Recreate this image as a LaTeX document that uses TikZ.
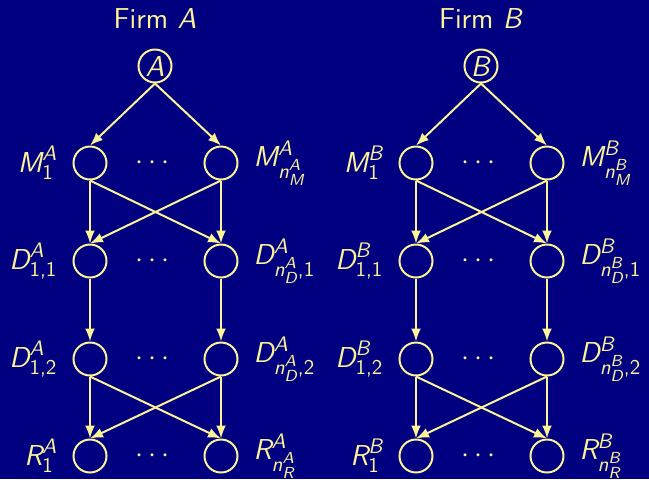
\documentclass[tikz,border=0pt]{standalone}
\usepackage{amsmath}
\usepackage{tikz}
\usepackage{xcolor}
\usetikzlibrary{arrows.meta, shapes}
\renewcommand{\familydefault}{\sfdefault}
\DeclareMathSizes{14.4}{14.4}{10.5}{8}
\definecolor{slidebg}{RGB}{0,0,128}
\definecolor{slidefg}{RGB}{252,242,150}
\newcommand{\mv}[1]{\text{\itshape #1}}
\newcommand{\nsub}[2]{\mv{n}^{\mv{#1}}_{\mv{#2}}}
\tikzset{
    unit/.style={draw=slidefg, circle, line width=1pt, minimum size=16.5pt, inner sep=0pt},
    lab/.style={text=slidefg, font=\fontsize{14.4}{17}\selectfont, label distance=4pt},
    link/.style={->, >={Latex[length=6.5pt,width=5pt]}, draw=slidefg, line width=1pt},
    firmtitle/.style={text=slidefg, font=\fontsize{14.4}{17}\selectfont}
}

\begin{document}
\begin{tikzpicture}[x=0.5pt, y=-0.5pt, every node/.style={text=slidefg, font=\fontsize{14.4}{17}\selectfont}]
            \fill[slidebg] (0,0) rectangle (649,479);
            \useasboundingbox (0,0) rectangle (649,479);

            % firm A
            \node[firmtitle] (titleA) at (155,18) {Firm \textit{A}};
            \node[unit] (A) at (155,66) {\textit{A}};

            \node[unit, label={[lab]left:$\mv{M}^{\mv{A}}_{\text{1}}$}] (M1A) at (90,163) {};
            \node[unit, label={[lab]right:$\mv{M}^{\mv{A}}_{\nsub{A}{M}}$}] (MnA) at (221,163) {};
            \node[unit, label={[lab]left:$\mv{D}^{\mv{A}}_{\text{1,1}}$}] (D11A) at (90,261) {};
            \node[unit, label={[lab]right:$\mv{D}^{\mv{A}}_{\nsub{A}{D}\text{,1}}$}] (Dn1A) at (221,261) {};
            \node[unit, label={[lab]left:$\mv{D}^{\mv{A}}_{\text{1,2}}$}] (D12A) at (90,359) {};
            \node[unit, label={[lab]right:$\mv{D}^{\mv{A}}_{\nsub{A}{D}\text{,2}}$}] (Dn2A) at (221,359) {};
            \node[unit, label={[lab]left:$\mv{R}^{\mv{A}}_{\text{1}}$}] (R1A) at (90,456) {};
            \node[unit, label={[lab]right:$\mv{R}^{\mv{A}}_{\nsub{A}{R}}$}] (RnA) at (221,456) {};

            \node (dotsMA) at (155,163) {$\cdots$};
            \node (dotsD1A) at (155,261) {$\cdots$};
            \node (dotsD2A) at (155,359) {$\cdots$};
            \node (dotsRA) at (155,456) {$\cdots$};

            \draw[link] (A.south)--(M1A.north);
            \draw[link] (A.south)--(MnA.north);

            \draw[link] (M1A.south)--(D11A.north);
            \draw[link] (M1A.south)--(Dn1A.north);
            \draw[link] (MnA.south)--(D11A.north);
            \draw[link] (MnA.south)--(Dn1A.north);

            \draw[link] (D11A.south)--(D12A.north);
            \draw[link] (Dn1A.south)--(Dn2A.north);

            \draw[link] (D12A.south)--(R1A.north);
            \draw[link] (D12A.south)--(RnA.north);
            \draw[link] (Dn2A.south)--(R1A.north);
            \draw[link] (Dn2A.south)--(RnA.north);

            % firm B
            \node[firmtitle] (titleB) at (481,18) {Firm \textit{B}};
            \node[unit] (B) at (481,66) {\textit{B}};

            \node[unit, label={[lab]left:$\mv{M}^{\mv{B}}_{\text{1}}$}] (M1B) at (416,163) {};
            \node[unit, label={[lab]right:$\mv{M}^{\mv{B}}_{\nsub{B}{M}}$}] (MnB) at (547,163) {};
            \node[unit, label={[lab]left:$\mv{D}^{\mv{B}}_{\text{1,1}}$}] (D11B) at (416,261) {};
            \node[unit, label={[lab]right:$\mv{D}^{\mv{B}}_{\nsub{B}{D}\text{,1}}$}] (Dn1B) at (547,261) {};
            \node[unit, label={[lab]left:$\mv{D}^{\mv{B}}_{\text{1,2}}$}] (D12B) at (416,359) {};
            \node[unit, label={[lab]right:$\mv{D}^{\mv{B}}_{\nsub{B}{D}\text{,2}}$}] (Dn2B) at (547,359) {};
            \node[unit, label={[lab]left:$\mv{R}^{\mv{B}}_{\text{1}}$}] (R1B) at (416,456) {};
            \node[unit, label={[lab]right:$\mv{R}^{\mv{B}}_{\nsub{B}{R}}$}] (RnB) at (547,456) {};

            \node (dotsMB) at (481,163) {$\cdots$};
            \node (dotsD1B) at (481,261) {$\cdots$};
            \node (dotsD2B) at (481,359) {$\cdots$};
            \node (dotsRB) at (481,456) {$\cdots$};

            \draw[link] (B.south)--(M1B.north);
            \draw[link] (B.south)--(MnB.north);

            \draw[link] (M1B.south)--(D11B.north);
            \draw[link] (M1B.south)--(Dn1B.north);
            \draw[link] (MnB.south)--(D11B.north);
            \draw[link] (MnB.south)--(Dn1B.north);

            \draw[link] (D11B.south)--(D12B.north);
            \draw[link] (Dn1B.south)--(Dn2B.north);

            \draw[link] (D12B.south)--(R1B.north);
            \draw[link] (D12B.south)--(RnB.north);
            \draw[link] (Dn2B.south)--(R1B.north);
            \draw[link] (Dn2B.south)--(RnB.north);
\end{tikzpicture}
\end{document}
